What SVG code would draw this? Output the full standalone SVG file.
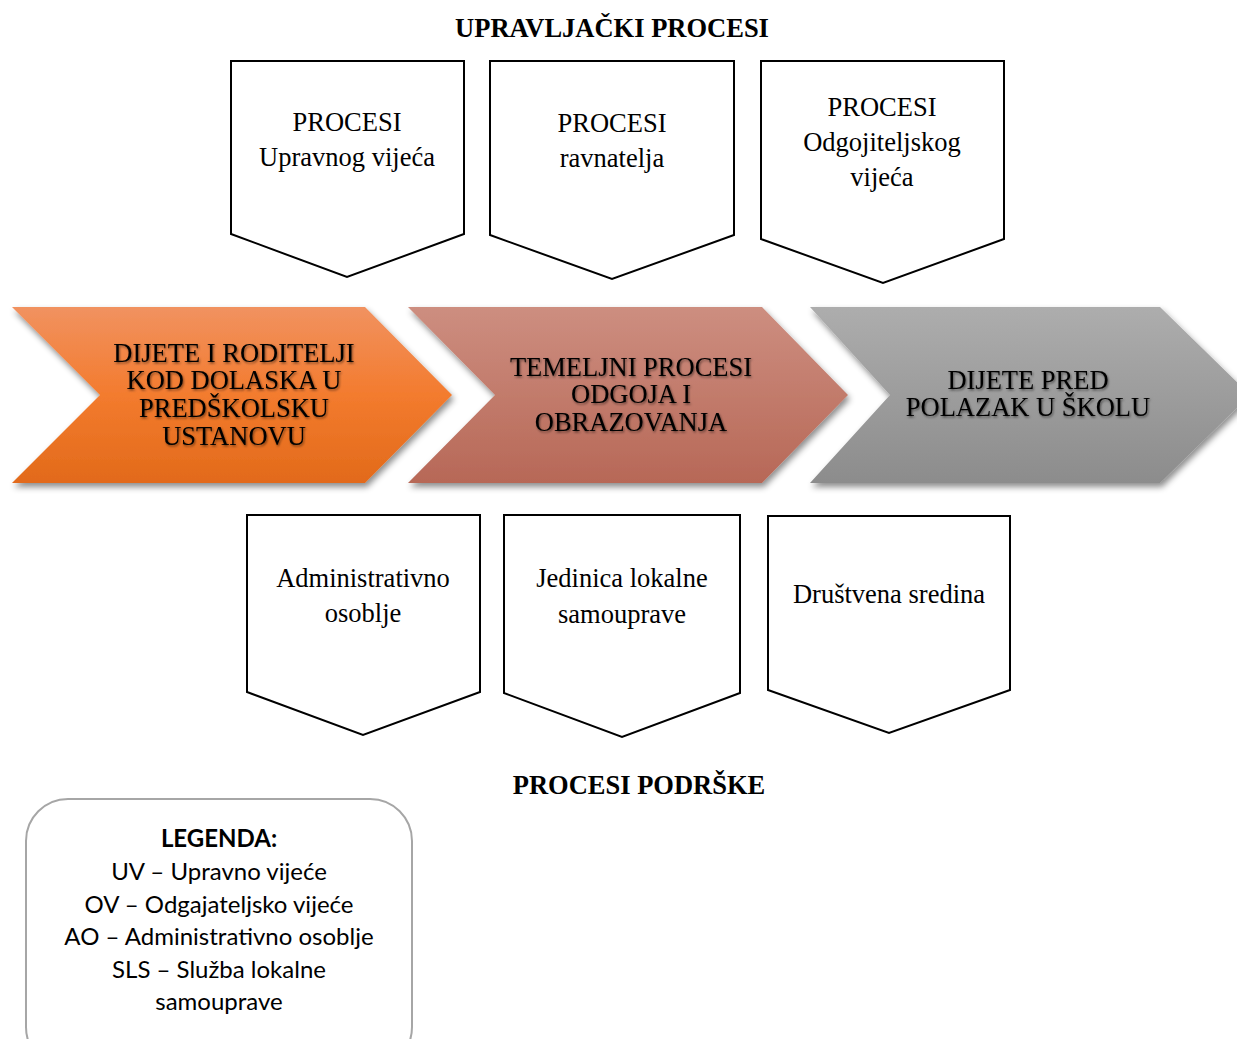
<svg xmlns="http://www.w3.org/2000/svg" width="1237" height="1039" viewBox="0 0 1237 1039">
<defs>
<linearGradient id="gOrange" x1="0" y1="0" x2="0" y2="1">
<stop offset="0" stop-color="#F19260"/><stop offset="0.5" stop-color="#F37B2E"/><stop offset="1" stop-color="#E26A1A"/>
</linearGradient>
<linearGradient id="gRose" x1="0" y1="0" x2="0" y2="1">
<stop offset="0" stop-color="#CD8E80"/><stop offset="1" stop-color="#B76857"/>
</linearGradient>
<linearGradient id="gGray" x1="0" y1="0" x2="0" y2="1">
<stop offset="0" stop-color="#ADADAD"/><stop offset="1" stop-color="#8C8C8C"/>
</linearGradient>
<filter id="shadow" x="-10%" y="-10%" width="130%" height="140%">
<feDropShadow dx="2" dy="4" stdDeviation="3" flood-color="#000" flood-opacity="0.45"/>
</filter>
<filter id="tshadow" x="-10%" y="-20%" width="130%" height="160%">
<feDropShadow dx="1" dy="1.5" stdDeviation="1" flood-color="#000" flood-opacity="0.5"/>
</filter>
</defs>
<style>
.box{fill:#fff;stroke:#000;stroke-width:2;stroke-linejoin:miter}
.bt{font-family:"Liberation Serif","Times New Roman",serif;font-size:26.5px;fill:#000;text-anchor:middle}
.ct{font-family:"Liberation Serif","Times New Roman",serif;font-size:26.5px;fill:#000;text-anchor:middle}
.title{font-family:"Liberation Serif","Times New Roman",serif;font-size:26.5px;font-weight:bold;fill:#000;text-anchor:middle}
.leg{font-family:Lato,"Open Sans",sans-serif;font-size:24px;fill:#000;text-anchor:middle}
</style>
<rect width="1237" height="1039" fill="#fff"/>
<text class="title" x="612" y="37">UPRAVLJAČKI PROCESI</text>
<text class="title" x="639" y="794">PROCESI PODRŠKE</text>

<g id="top1">
<path class="box" d="M231,61 H464 V234 L347,277 L231,234 Z"/>
<text class="bt" x="347" y="131">PROCESI</text>
<text class="bt" x="347" y="166">Upravnog vijeća</text>
</g>
<g id="top2">
<path class="box" d="M490,61 H734 V235 L612,279 L490,235 Z"/>
<text class="bt" x="612" y="132">PROCESI</text>
<text class="bt" x="612" y="167">ravnatelja</text>
</g>
<g id="top3">
<path class="box" d="M761,61 H1004 V239 L883,283 L761,239 Z"/>
<text class="bt" x="882" y="116">PROCESI</text>
<text class="bt" x="882" y="151">Odgojiteljskog</text>
<text class="bt" x="882" y="186">vijeća</text>
</g>

<g id="chev1">
<path d="M12,307 H365 L452,395 L365,483 H12 L100,395 Z" fill="url(#gOrange)" filter="url(#shadow)"/>
<g filter="url(#tshadow)">
<text class="ct" x="234" y="362">DIJETE I RODITELJI</text>
<text class="ct" x="234" y="389">KOD DOLASKA U</text>
<text class="ct" x="234" y="417">PREDŠKOLSKU</text>
<text class="ct" x="234" y="445">USTANOVU</text>
</g>
</g>
<g id="chev2">
<path d="M408,307 H762 L848,395 L762,483 H408 L495,395 Z" fill="url(#gRose)" filter="url(#shadow)"/>
<g filter="url(#tshadow)">
<text class="ct" x="631" y="376">TEMELJNI PROCESI</text>
<text class="ct" x="631" y="403">ODGOJA I</text>
<text class="ct" x="631" y="431">OBRAZOVANJA</text>
</g>
</g>
<g id="chev3">
<path d="M810,307 H1160 L1250,395 L1160,483 H810 L890,395 Z" fill="url(#gGray)" filter="url(#shadow)"/>
<g filter="url(#tshadow)">
<text class="ct" x="1028" y="389">DIJETE PRED</text>
<text class="ct" x="1028" y="416">POLAZAK U ŠKOLU</text>
</g>
</g>

<g id="bot1">
<path class="box" d="M247,515 H480 V692 L363,735 L247,692 Z"/>
<text class="bt" x="363" y="587">Administrativno</text>
<text class="bt" x="363" y="622">osoblje</text>
</g>
<g id="bot2">
<path class="box" d="M504,515 H740 V693 L622,737 L504,693 Z"/>
<text class="bt" x="622" y="587">Jedinica lokalne</text>
<text class="bt" x="622" y="623">samouprave</text>
</g>
<g id="bot3">
<path class="box" d="M768,516 H1010 V690 L889,733 L768,690 Z"/>
<text class="bt" x="889" y="603">Društvena sredina</text>
</g>

<g id="legend">
<rect x="26" y="799" width="386" height="270" rx="42" ry="42" fill="#fff" stroke="#A6A6A6" stroke-width="2"/>
<text class="leg" x="219" y="847" font-weight="bold">LEGENDA:</text>
<text class="leg" x="219" y="880">UV – Upravno vijeće</text>
<text class="leg" x="219" y="913">OV – Odgajateljsko vijeće</text>
<text class="leg" x="219" y="945">AO – Administrativno osoblje</text>
<text class="leg" x="219" y="978">SLS – Služba lokalne</text>
<text class="leg" x="219" y="1010">samouprave</text>
</g>
<g id="connectors"></g>
</svg>
